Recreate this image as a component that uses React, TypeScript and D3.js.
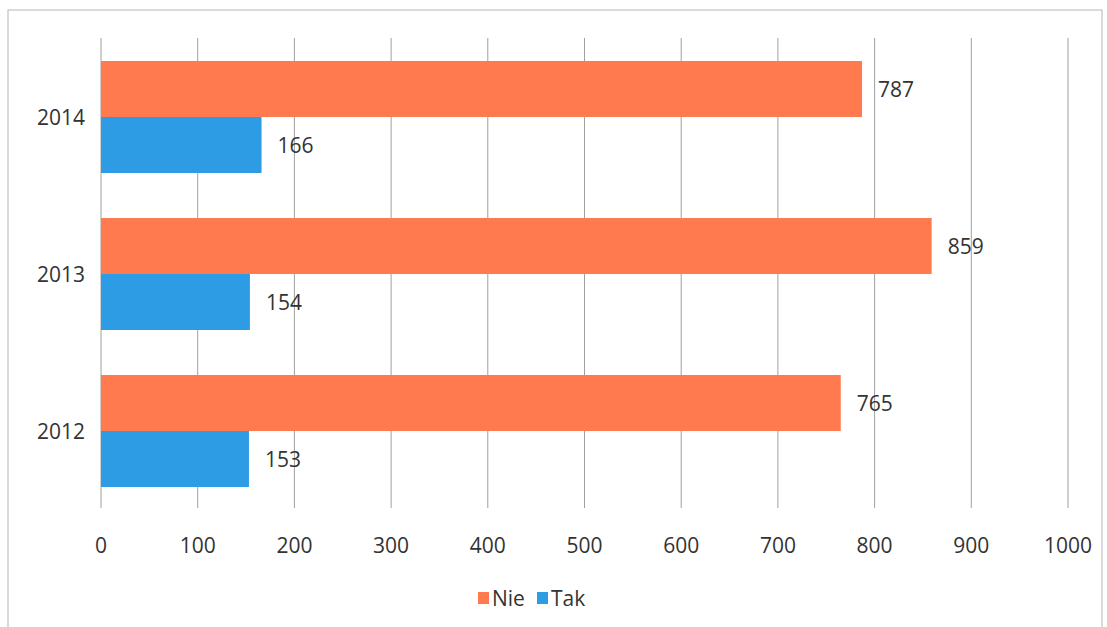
import * as d3 from "d3";

const years = ["2014", "2013", "2012"];
const nie = [787, 859, 765];
const tak = [166, 154, 153];
const xTicks = [0, 100, 200, 300, 400, 500, 600, 700, 800, 900, 1000];
const seriesNames = ["Nie", "Tak"];
const colors = ["#FF7B4F", "#2E9BE5"];

const W = 1107;
const H = 627;
const font = "'Open Sans', 'Noto Sans', sans-serif";

export default function App() {
  const x = d3.scaleLinear().domain([0, 1000]).range([101, 1068]);
  const y = d3
    .scaleBand<string>()
    .domain(years)
    .range([38.5, 509.5])
    .paddingInner(0.2866)
    .paddingOuter(0.1433);
  const sub = d3.scaleBand<string>().domain(seriesNames).range([0, y.bandwidth()]);
  const series = [nie, tak];

  return (
    <svg
      width={W}
      height={H}
      style={{ position: "absolute", left: 0, top: 0, background: "#fff" }}
      fontFamily={font}
    >
      <rect x={8} y={10} width={1094} height={640} fill="none" stroke="#b5b5b5" strokeWidth={1} />
      {xTicks.map((t) => (
        <line key={t} x1={x(t)} x2={x(t)} y1={38} y2={508} stroke="#a0a0a0" strokeWidth={1} />
      ))}
      {years.map((yr, i) => (
        <g key={yr}>
          {series.map((s, j) => {
            const y0 = (y(yr) ?? 0) + (sub(seriesNames[j]) ?? 0);
            return (
              <g key={j}>
                <rect
                  x={x(0)}
                  y={y0}
                  width={x(s[i]) - x(0)}
                  height={sub.bandwidth()}
                  fill={colors[j]}
                />
                <text
                  x={x(s[i]) + 16}
                  y={y0 + sub.bandwidth() / 2}
                  dy="0.36em"
                  fontSize={21}
                  fill="#333"
                >
                  {s[i]}
                </text>
              </g>
            );
          })}
          <text
            x={85}
            y={(y(yr) ?? 0) + y.bandwidth() / 2}
            dy="0.36em"
            textAnchor="end"
            fontSize={21}
            fill="#333"
          >
            {yr}
          </text>
        </g>
      ))}
      {xTicks.map((t) => (
        <text key={t} x={x(t)} y={545} dy="0.36em" textAnchor="middle" fontSize={21} fill="#333">
          {t}
        </text>
      ))}
      {seriesNames.map((n, j) => {
        const lx = j === 0 ? 478 : 537;
        return (
          <g key={n}>
            <rect x={lx} y={592} width={11} height={12} fill={colors[j]} />
            <text x={lx + 14} y={598} dy="0.36em" fontSize={21} fill="#333">
              {n}
            </text>
          </g>
        );
      })}
    </svg>
  );
}
